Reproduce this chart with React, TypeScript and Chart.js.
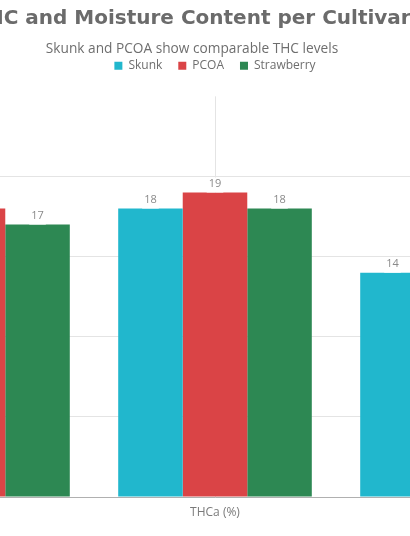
import React, { useEffect, useRef } from 'react';
import { Chart, registerables, Plugin } from 'chart.js';

Chart.register(...registerables);

const categories = ['THC (%)', 'THCa (%)', 'Moisture (%)'];
const cultivars = ['Skunk', 'PCOA', 'Strawberry'];
const skunkValues = [18, 18, 14];
const pcoaValues = [18, 19, 12];
const strawberryValues = [17, 18, 11];
const colors = ['#21b7cd', '#da4446', '#2d8853'];

// value labels above each bar, on a small white patch
const barLabels: Plugin<'bar'> = {
  id: 'barLabels',
  afterDatasetsDraw(chart) {
    const { ctx } = chart;
    ctx.save();
    ctx.font = '11px "Open Sans"';
    ctx.textAlign = 'center';
    ctx.textBaseline = 'middle';
    chart.data.datasets.forEach((ds, i) => {
      const meta = chart.getDatasetMeta(i);
      meta.data.forEach((bar, j) => {
        const text = String(ds.data[j]);
        const w = ctx.measureText(text).width + 4;
        ctx.fillStyle = '#ffffff';
        ctx.fillRect(bar.x - w / 2, bar.y - 15, w, 15);
        ctx.fillStyle = '#8a8a8a';
        ctx.fillText(text, bar.x, bar.y - 9);
      });
    });
    ctx.restore();
  },
};

const App: React.FC = () => {
  const chartRef = useRef<HTMLCanvasElement | null>(null);
  const chartInstance = useRef<Chart | null>(null);

  useEffect(() => {
    if (!chartRef.current) return;
    if (chartInstance.current) chartInstance.current.destroy();
    const ctx = chartRef.current.getContext('2d');
    if (!ctx) return;

    const series = [skunkValues, pcoaValues, strawberryValues];

    chartInstance.current = new Chart(ctx, {
      type: 'bar',
      data: {
        labels: categories,
        datasets: cultivars.map((name, i) => ({
          label: name,
          data: series[i],
          backgroundColor: colors[i],
          borderWidth: 0,
          categoryPercentage: 0.8,
          barPercentage: 1.0,
        })),
      },
      options: {
        animation: false,
        responsive: true,
        maintainAspectRatio: false,
        layout: { padding: { left: 6, right: 10, top: 0, bottom: 0 } },
        plugins: {
          title: {
            display: true,
            text: 'THC and Moisture Content per Cultivar',
            color: '#6b6b6b',
            font: { family: '"DejaVu Sans"', size: 20, weight: 'bold' },
            padding: { top: 7, bottom: 10 },
          },
          subtitle: {
            display: true,
            text: 'Skunk and PCOA show comparable THC levels',
            color: '#6e6e6e',
            font: { family: '"Open Sans"', size: 13.7 },
            padding: { top: 0, bottom: -13.6 },
          },
          legend: {
            position: 'top',
            fullSize: false,
            labels: {
              boxWidth: 8,
              boxHeight: 8,
              padding: 16,
              color: '#6e6e6e',
              font: { family: '"Open Sans"', size: 12 },
            },
          },
          tooltip: { enabled: false },
        },
        scales: {
          x: {
            grid: {
              offset: false,
              color: '#e4e4e4',
              drawTicks: false,
            },
            border: { color: '#b0b0b0' },
            ticks: {
              color: '#7a7a7a',
              padding: 8,
              font: { family: '"Open Sans"', size: 12 },
            },
            afterFit: (s) => {
              s.height = 39;
            },
          },
          // empty strip between legend and plot
          gap: {
            type: 'category',
            position: 'top',
            grid: { display: false },
            border: { display: false },
            ticks: { display: false },
            afterFit: (s) => {
              s.height = 14.5;
            },
          },
          y: {
            min: 0,
            max: 25,
            ticks: {
              stepSize: 5,
              color: '#7a7a7a',
              font: { family: '"Open Sans"', size: 11 },
            },
            grid: {
              drawTicks: false,
              color: (c) => (c.tick && c.tick.value > 20 ? 'rgba(0,0,0,0)' : '#e4e4e4'),
            },
            border: { display: false },
            afterFit: (s) => {
              s.width = 46;
            },
          },
        },
      },
      plugins: [barLabels],
    });

    return () => {
      if (chartInstance.current) {
        chartInstance.current.destroy();
        chartInstance.current = null;
      }
    };
  }, []);

  return (
    <div
      style={{
        position: 'fixed',
        top: 0,
        left: 0,
        width: 410,
        height: 536,
        overflow: 'hidden',
        background: '#ffffff',
      }}
    >
      <div style={{ position: 'absolute', left: -200, top: 0, width: 788, height: 536 }}>
        <canvas ref={chartRef}></canvas>
      </div>
    </div>
  );
};

export default App;
